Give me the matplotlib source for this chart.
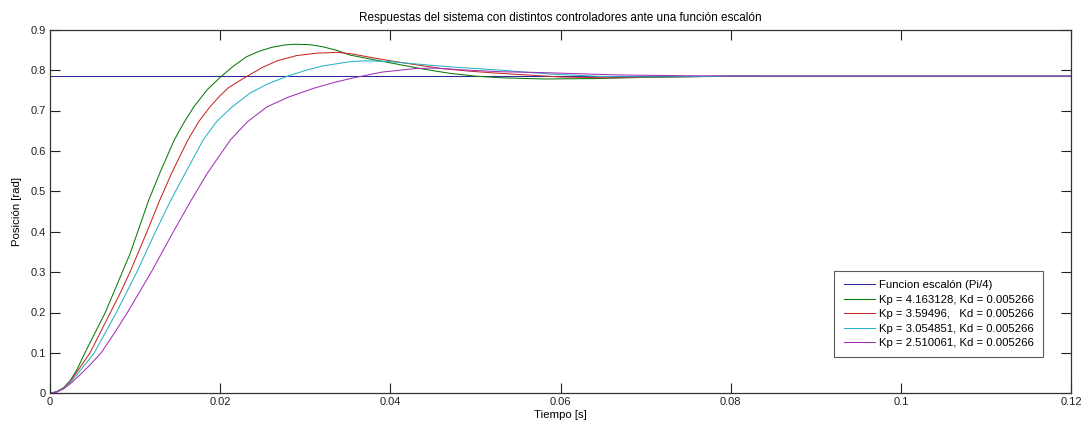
import matplotlib
matplotlib.use("Agg")
import matplotlib.pyplot as plt

# ---- data ----
step_level = 0.785398  # pi/4
t_range = [0.0, 0.12]

t_green = [0, 0.0008, 0.0016, 0.0024, 0.0032, 0.0041, 0.0053, 0.0065, 0.0075, 0.0085, 0.0094, 0.0102,
           0.0116, 0.0129, 0.0146, 0.0158, 0.0169, 0.0185, 0.0201, 0.0215, 0.0231, 0.0245, 0.026,
           0.0275, 0.0288, 0.0305, 0.032, 0.0337, 0.0353, 0.038, 0.041, 0.044, 0.047, 0.05, 0.053,
           0.058, 0.064, 0.07, 0.08, 0.12]
y_green = [0, 0.004, 0.014, 0.032, 0.06, 0.1, 0.15, 0.2, 0.25, 0.3, 0.345, 0.393,
           0.478, 0.545, 0.627, 0.672, 0.709, 0.752, 0.784, 0.809, 0.833, 0.846, 0.856,
           0.862, 0.864, 0.863, 0.858, 0.849, 0.837, 0.826, 0.814, 0.802, 0.792, 0.785, 0.781,
           0.778, 0.779, 0.782, 0.785, 0.785]

t_red = [0, 0.0008, 0.0016, 0.0024, 0.0034, 0.0047, 0.0059, 0.0071, 0.0083, 0.0094, 0.0104, 0.0114,
         0.0129, 0.0143, 0.0162, 0.0175, 0.0188, 0.02, 0.021, 0.0231, 0.025, 0.0267, 0.029, 0.0314,
         0.0338, 0.0355, 0.0373, 0.04, 0.0431, 0.046, 0.0495, 0.0529, 0.056, 0.06, 0.065, 0.072,
         0.08, 0.12]
y_red = [0, 0.004, 0.013, 0.03, 0.06, 0.1, 0.15, 0.2, 0.25, 0.3, 0.35, 0.4,
         0.478, 0.545, 0.627, 0.673, 0.709, 0.737, 0.757, 0.784, 0.807, 0.823, 0.836, 0.842,
         0.844, 0.84, 0.833, 0.823, 0.813, 0.804, 0.797, 0.792, 0.788, 0.783, 0.781, 0.783,
         0.785, 0.785]

t_cyan = [0, 0.0008, 0.0016, 0.0024, 0.0035, 0.0052, 0.0065, 0.0078, 0.009, 0.0102, 0.0113, 0.0124,
          0.0142, 0.0159, 0.018, 0.0196, 0.0214, 0.0235, 0.0256, 0.0278, 0.03, 0.032, 0.0353,
          0.0371, 0.04, 0.0431, 0.047, 0.0529, 0.0588, 0.065, 0.072, 0.08, 0.12]
y_cyan = [0, 0.004, 0.012, 0.027, 0.055, 0.1, 0.15, 0.2, 0.25, 0.3, 0.35, 0.4,
          0.478, 0.545, 0.627, 0.673, 0.709, 0.743, 0.766, 0.784, 0.799, 0.81, 0.821,
          0.823, 0.821, 0.815, 0.808, 0.8, 0.79, 0.784, 0.783, 0.785, 0.785]

t_mag = [0, 0.0008, 0.0016, 0.0024, 0.0035, 0.0047, 0.006, 0.0076, 0.0091, 0.0105, 0.0119, 0.0132,
         0.0145, 0.0166, 0.0185, 0.0212, 0.0232, 0.0255, 0.028, 0.031, 0.0335, 0.0355, 0.039,
         0.043, 0.0451, 0.049, 0.0529, 0.0576, 0.0667, 0.075, 0.085, 0.12]
y_mag = [0, 0.003, 0.011, 0.024, 0.045, 0.07, 0.1, 0.15, 0.2, 0.25, 0.3, 0.35,
         0.4, 0.478, 0.545, 0.627, 0.672, 0.709, 0.733, 0.755, 0.77, 0.78, 0.795,
         0.804, 0.805, 0.8, 0.796, 0.794, 0.788, 0.786, 0.785, 0.785]

labels = ["Funcion escalón (Pi/4)",
          "Kp = 4.163128, Kd = 0.005266",
          "Kp = 3.59496,   Kd = 0.005266",
          "Kp = 3.054851, Kd = 0.005266",
          "Kp = 2.510061, Kd = 0.005266"]

x_ticks = [0, 0.02, 0.04, 0.06, 0.08, 0.1, 0.12]
x_ticklabels = ["0", "0.02", "0.04", "0.06", "0.08", "0.1", "0.12"]
y_ticks = [0, 0.1, 0.2, 0.3, 0.4, 0.5, 0.6, 0.7, 0.8, 0.9]
y_ticklabels = ["0", "0.1", "0.2", "0.3", "0.4", "0.5", "0.6", "0.7", "0.8", "0.9"]

title = "Respuestas del sistema con distintos controladores ante una función escalón"
xlabel = "Tiempo [s]"
ylabel = "Posición [rad]"

# ---- drawing ----
plt.rcParams['font.family'] = ["Liberation Sans", "DejaVu Sans"]

fig = plt.figure(figsize=(10.83, 4.26), dpi=100)
ax = fig.add_axes([50 / 1083, 1 - 393.3 / 426, (1071 - 50) / 1083, (393.3 - 29.7) / 426])

lw = 0.75
ax.plot(t_range, [step_level, step_level], color="#2b2b9e", lw=lw, label=labels[0])
ax.plot(t_green, y_green, color="#0a7a0a", lw=lw, label=labels[1])
ax.plot(t_red, y_red, color="#c82828", lw=lw, label=labels[2])
ax.plot(t_cyan, y_cyan, color="#26b4c4", lw=lw, label=labels[3])
ax.plot(t_mag, y_mag, color="#a032b4", lw=lw, label=labels[4])

ax.set_xlim(0, 0.12)
ax.set_ylim(0, 0.9)
ax.set_xticks(x_ticks)
ax.set_xticklabels(x_ticklabels, fontsize=8)
ax.set_yticks(y_ticks)
ax.set_yticklabels(y_ticklabels, fontsize=8)
ax.tick_params(direction="in", length=7, width=0.8, top=True, right=True, pad=3, colors="#222222")
for s in ax.spines.values():
    s.set_linewidth(0.9)
    s.set_color("#333333")

ax.set_title(title, fontsize=8.5, pad=6)
ax.set_xlabel(xlabel, fontsize=8.2, labelpad=2)
ax.set_ylabel(ylabel, fontsize=8.2, labelpad=6)

leg = ax.legend(loc="lower right", bbox_to_anchor=(1 - 28 / 1021, 36 / 363.6),
                fontsize=8.2, frameon=True, fancybox=False, handlelength=2.8,
                handletextpad=0.3, borderpad=0.8, labelspacing=0.39, borderaxespad=0)
leg.get_frame().set_edgecolor("#333333")
leg.get_frame().set_linewidth(0.8)

fig.savefig("out.png", dpi=100)
